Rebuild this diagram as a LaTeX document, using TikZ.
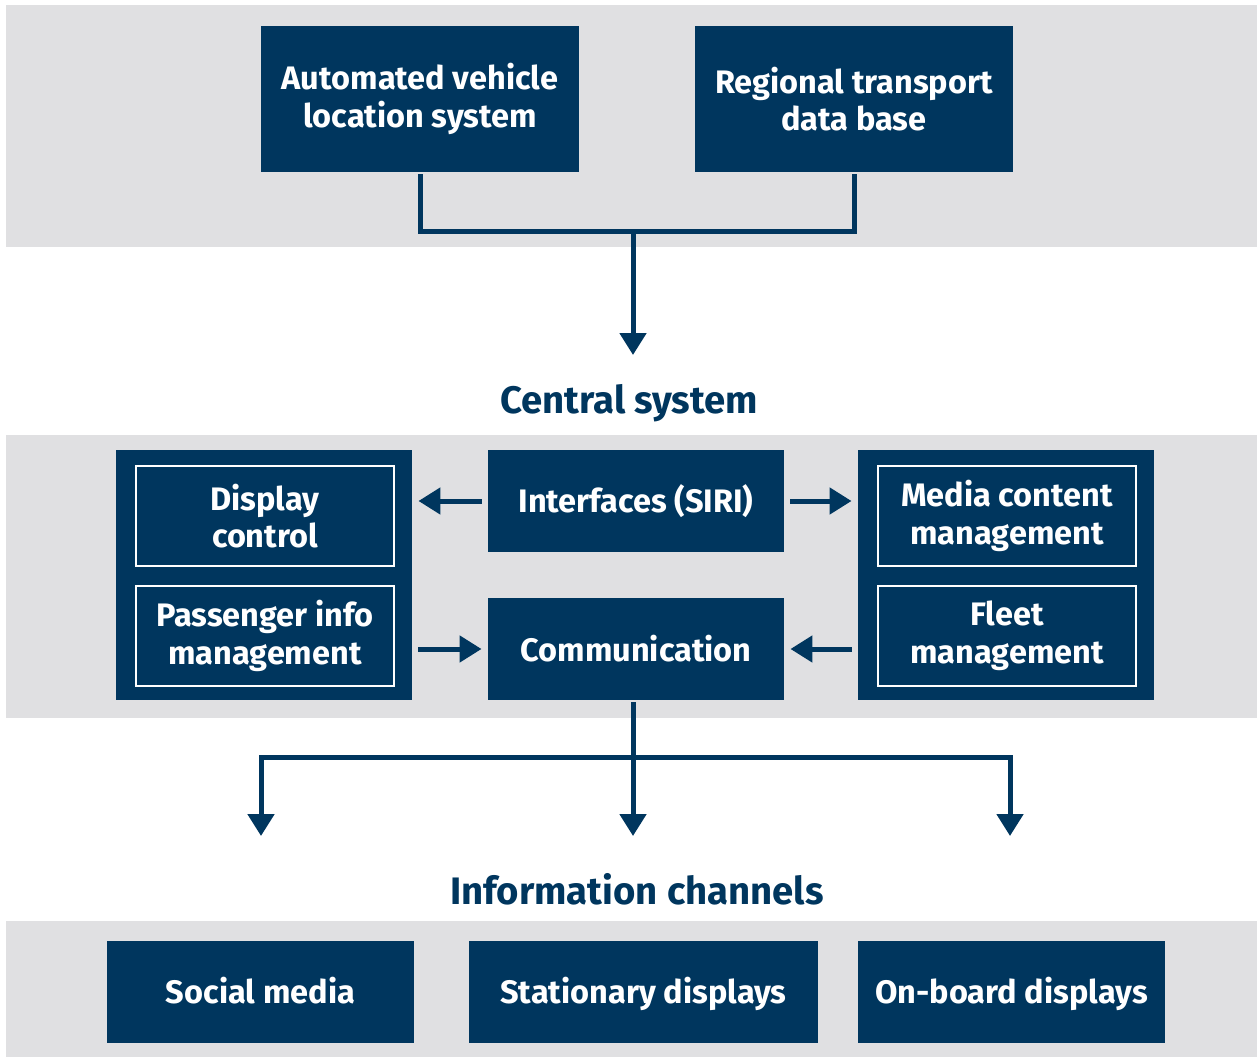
\documentclass[tikz,border=0pt]{standalone}
\usepackage{fontspec}
\setmainfont{Fira Sans}
\usetikzlibrary{arrows.meta,positioning,calc}
\definecolor{navy}{RGB}{0,54,94}
\definecolor{bandgray}{RGB}{224,224,226}

\begin{document}
\begin{tikzpicture}[x=0.02cm,y=-0.02cm,line width=0.1cm,line join=miter,
    >={Triangle[width=0.52cm,length=0.44cm]}]
    \tikzstyle{box}=[fill=navy, text=white, align=center, inner sep=0pt,
        font=\bfseries\fontsize{18.5}{21.5}\selectfont]
    \tikzstyle{srcbox}=[box, minimum width=6.36cm, minimum height=2.92cm]
    \tikzstyle{groupbox}=[box, minimum width=5.92cm, minimum height=5cm]
    \tikzstyle{midbox}=[box, minimum width=5.92cm, minimum height=2.04cm]
    \tikzstyle{inbox}=[box, draw=white, line width=0.04cm, minimum width=5.16cm, minimum height=2cm]
    \tikzstyle{chanbox}=[box, minimum height=2.04cm, text height=13pt, text depth=0pt]
    \tikzstyle{heading}=[text=navy, font=\bfseries\fontsize{21.8}{26}\selectfont]
    \tikzstyle{line}=[draw=navy]
    \tikzstyle{arr}=[draw=navy, ->]

    \useasboundingbox (0,0) rectangle (1257,1057);
    % grey bands
    \fill[bandgray] (6,5) rectangle (1257,247);
    \fill[bandgray] (6,435) rectangle (1257,718);
    \fill[bandgray] (6,921) rectangle (1257,1057);

    % data sources
    \node[srcbox] (avl) at (420,99) {Automated vehicle\\location system};
    \node[srcbox] (rtdb) at (854,99) {Regional transport\\data base};
    \coordinate (join) at (633,232);
    \coordinate (centraltip) at (633,355);

    % central system
    \node[heading] (central) at (629,403) {Central system};
    \node[groupbox] (leftgroup) at (264,575) {};
    \node[inbox] (display) at (265,516) {Display\\control};
    \node[inbox] (passenger) [below=0.36cm of display] {Passenger info\\management};
    \node[midbox] (siri) at (636,501) {Interfaces (SIRI)};
    \node[midbox] (comm) at (636,649) {Communication};
    \node[groupbox] (rightgroup) at (1006,575) {};
    \node[inbox] (media) at (1007,516) {Media content\\management};
    \node[inbox] (fleet) [below=0.36cm of media] {Fleet\\management};

    % information channels
    \node[heading] (channels) at (637,889) {Information channels};
    \node[chanbox, minimum width=6.14cm] (social) at (260.5,992) {Social media};
    \node[chanbox, minimum width=6.98cm] (stationary) at (643.5,992) {Stationary displays};
    \node[chanbox, minimum width=6.14cm] (onboard) at (1011.5,992) {On-board displays};
    \coordinate (split) at (633,757);
    \coordinate (tipL) at (261,836);
    \coordinate (tipM) at (633,836);
    \coordinate (tipR) at (1010,836);

    % connectors
    \draw[line] (avl.south) |- (join) -| (rtdb.south);
    \draw[arr] (join) -- (centraltip);
    \draw[arr, shorten <=0.08cm, shorten >=0.08cm] (siri.west) -- (leftgroup.east |- siri.west);
    \draw[arr, shorten <=0.08cm, shorten >=0.08cm] (siri.east) -- (rightgroup.west |- siri.east);
    \draw[arr, shorten <=0.08cm, shorten >=0.08cm] (leftgroup.east |- comm.west) -- (comm.west);
    \draw[arr, shorten <=0.08cm, shorten >=0.08cm] (rightgroup.west |- comm.east) -- (comm.east);
    \draw[line] (split |- comm.south) -- (split);
    \draw[arr] (split) -| (tipL);
    \draw[arr] (split) -- (tipM);
    \draw[arr] (split) -| (tipR);
\end{tikzpicture}
\end{document}
